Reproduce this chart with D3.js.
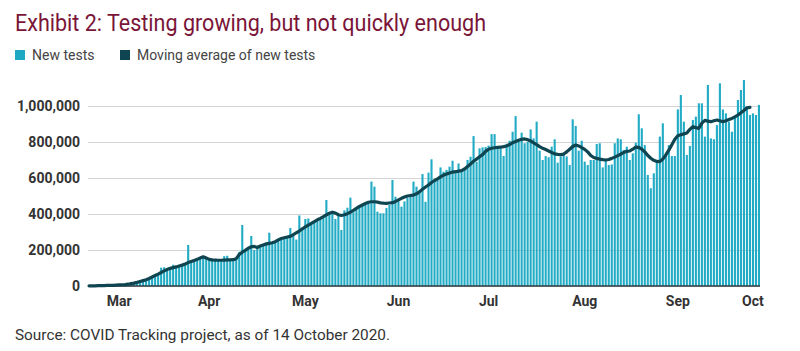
<!DOCTYPE html>
<html>
<head>
<meta charset="utf-8">
<script src="https://cdn.jsdelivr.net/npm/d3@7"></script>
<style>
  body { margin: 0; background: #fff; }
</style>
</head>
<body>
<div id="viz"></div>
<script>
// daily new tests (thousands), 5 Mar - 14 Oct 2020
let startDate = "2020-03-05";
let newTests = [
  1,1,2,1,2,3,2,3,4,5,
  6,7,9,11,14,18,22,27,32,38,
  45,50,58,70,102,104,90,98,118,110,
  115,122,126,228,134,140,150,160,165,158,
  146,144,143,142,143,166,168,145,146,150,
  190,339,200,215,278,200,210,228,232,238,
  296,238,245,255,262,268,270,322,280,258,
  392,318,372,375,342,355,365,372,388,478,
  405,400,372,395,311,420,435,491,410,425,
  440,448,455,460,580,552,413,404,404,433,
  450,589,496,470,441,470,490,500,580,552,
  520,622,468,630,704,590,600,659,635,645,
  663,696,635,681,640,650,700,718,833,690,
  765,770,772,780,844,844,770,765,722,790,
  807,857,944,810,852,793,800,870,820,913,
  752,700,722,715,774,815,685,720,728,720,
  672,926,889,752,807,691,672,700,700,789,
  793,659,704,672,675,793,820,815,756,774,
  700,737,796,954,876,783,617,543,626,691,
  830,904,728,783,722,722,981,1061,913,728,
  778,922,941,1015,1015,830,1117,820,815,894,
  1126,981,959,913,857,941,1033,1089,1144,996,
  950,959,950,1006
];

// 7-day moving average as drawn (thousands), ends 3 days before last bar
let movingAvg = [
  1,1,1,2,2,2,3,3,4,5,
  6,7,8,10,13,16,20,25,30,35,
  42,50,58,66,75,84,92,98,102,106,
  111,116,122,130,136,142,148,155,162,155,
  148,145,144,143,143,144,145,145,146,152,
  175,188,198,210,218,220,214,222,228,234,
  237,240,246,256,264,268,272,276,285,296,
  305,318,328,338,348,358,368,376,385,395,
  404,410,405,396,392,396,402,410,420,431,
  442,450,458,465,468,468,466,462,460,459,
  461,463,470,478,487,494,500,503,505,512,
  524,537,550,561,575,586,595,606,616,622,
  628,633,635,638,641,650,664,678,693,705,
  718,730,748,760,765,768,770,771,774,778,
  786,796,803,810,815,817,813,806,795,785,
  774,765,758,750,742,734,731,730,733,745,
  760,775,783,778,769,759,745,725,714,709,
  705,702,700,703,709,716,724,732,742,748,
  750,760,772,770,760,745,725,710,698,692,
  691,705,728,755,785,815,835,840,845,850,
  870,885,880,876,905,920,916,913,918,922,
  918,913,918,925,931,940,950,962,975,990,
  992
];

let yTicks = [0, 200000, 400000, 600000, 800000, 1000000];
let monthLabels = ["Mar", "Apr", "May", "Jun", "Jul", "Aug", "Sep", "Oct"];
let monthLabelDates = ["2020-03-15", "2020-04-14", "2020-05-16", "2020-06-16",
  "2020-07-16", "2020-08-17", "2020-09-17", "2020-10-12"];

let w = 800;
let h = 351;
let xLeft = 88;
let xRight = 760;
let yTop = 106;
let yBottom = 286;
let fontStack = "Roboto, 'Noto Sans', sans-serif";

let parse = d3.timeParse("%Y-%m-%d");
let fmt = d3.timeFormat("%Y-%m-%d");
let days = newTests.map((d, i) => d3.timeDay.offset(parse(startDate), i));

let barData = newTests.map((v, i) => ({ day: fmt(days[i]), value: v * 1000 }));
let lineData = movingAvg.map((v, i) => ({ day: fmt(days[i]), value: v * 1000 }));

let viz = d3.select("#viz")
  .append("svg")
    .attr("width", w)
    .attr("height", h)
    .style("font-family", fontStack);

let xScale = d3.scaleBand()
  .domain(barData.map(d => d.day))
  .range([xLeft, xRight])
  .paddingInner(0.3)
  .paddingOuter(0);

let yScale = d3.scaleLinear().domain([0, 1000000]).range([yBottom, yTop]);

// title + legend
viz.append("text")
  .text("Exhibit 2: Testing growing, but not quickly enough")
  .attr("x", 15)
  .attr("y", 31)
  .attr("fill", "#7a1538")
  .attr("font-size", "23px")
  .attr("textLength", 471)
  .attr("lengthAdjust", "spacingAndGlyphs");

let legend = viz.append("g").attr("transform", "translate(15, 60)");
legend.append("rect").attr("x", 0).attr("y", -10).attr("width", 10).attr("height", 10).attr("fill", "#1fa8c2");
legend.append("text").text("New tests").attr("x", 17).attr("y", 0)
  .attr("font-size", "14px").attr("fill", "#444");
legend.append("rect").attr("x", 105).attr("y", -10).attr("width", 10).attr("height", 10).attr("fill", "#0f4550");
legend.append("text").text("Moving average of new tests").attr("x", 122).attr("y", 0)
  .attr("font-size", "14px").attr("fill", "#444");

// gridlines + y labels
let yAxis = d3.axisLeft(yScale)
  .tickValues(yTicks)
  .tickSize(-(xRight - xLeft))
  .tickPadding(8)
  .tickFormat(d3.format(","));

let yAxisGroup = viz.append("g")
  .attr("class", "yaxis")
  .attr("transform", "translate(" + xLeft + ", 0)")
  .call(yAxis);
yAxisGroup.select(".domain").remove();
yAxisGroup.selectAll(".tick line").attr("stroke", "#d4d4d4").attr("stroke-width", 1);
yAxisGroup.selectAll(".tick text")
  .attr("fill", "#333")
  .style("font-size", "14px")
  .style("font-weight", "bold")
  .style("font-family", fontStack);

// bars
viz.append("g").selectAll("rect")
  .data(barData)
  .enter()
  .append("rect")
    .attr("x", d => xScale(d.day))
    .attr("y", d => yScale(d.value))
    .attr("width", xScale.bandwidth())
    .attr("height", d => yBottom - yScale(d.value))
    .attr("fill", "#22abc5");

// baseline
viz.append("line")
  .attr("x1", xLeft).attr("x2", xRight)
  .attr("y1", yBottom).attr("y2", yBottom)
  .attr("stroke", "#2f3d40").attr("stroke-width", 1.5);

// moving average line
let line = d3.line()
  .x(d => xScale(d.day) + xScale.bandwidth() / 2)
  .y(d => yScale(d.value))
  .curve(d3.curveLinear);

viz.append("path")
  .datum(lineData)
  .attr("d", line)
  .attr("fill", "none")
  .attr("stroke", "#0f4550")
  .attr("stroke-width", 3.2)
  .attr("stroke-linejoin", "round")
  .attr("stroke-linecap", "round");

// month labels
let xAxis = d3.axisBottom(xScale)
  .tickValues(monthLabelDates)
  .tickSize(0)
  .tickPadding(10)
  .tickFormat((d, i) => monthLabels[i]);

let xAxisGroup = viz.append("g")
  .attr("class", "xaxis")
  .attr("transform", "translate(0, " + yBottom + ")")
  .call(xAxis);
xAxisGroup.select(".domain").remove();
xAxisGroup.selectAll(".tick text")
  .attr("fill", "#333")
  .style("font-size", "14px")
  .style("font-weight", "bold")
  .style("font-family", fontStack);

// source
viz.append("text")
  .text("Source: COVID Tracking project, as of 14 October 2020.")
  .attr("x", 15)
  .attr("y", 340)
  .attr("fill", "#333")
  .attr("font-size", "15px")
  .attr("textLength", 375)
  .attr("lengthAdjust", "spacingAndGlyphs");
</script>
</body>
</html>
